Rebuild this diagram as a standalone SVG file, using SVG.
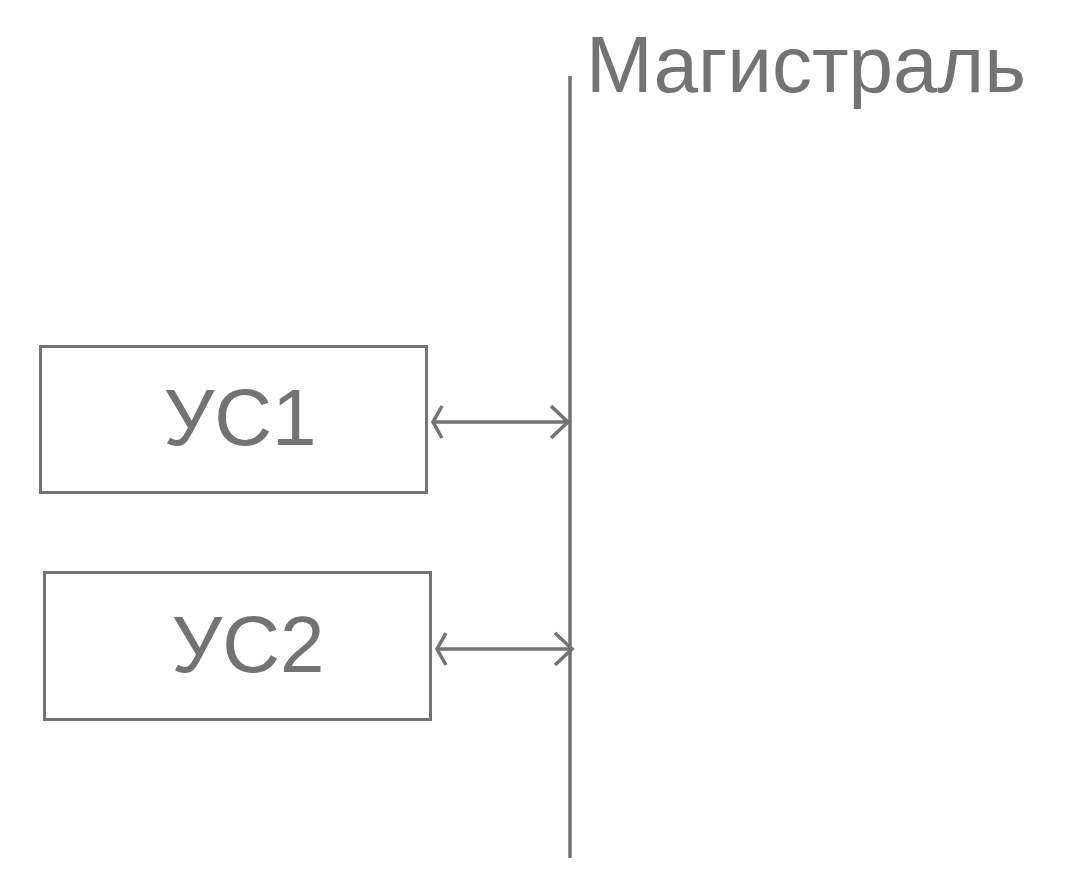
<svg xmlns="http://www.w3.org/2000/svg" width="1082" height="894" viewBox="0 0 1082 894">
<style>
.ln{stroke:#737373;stroke-width:3.5;fill:none}
.box{stroke:#737373;stroke-width:3;fill:#fff}
.t{font-family:"Liberation Sans",Arial,sans-serif;font-size:80px;fill:#737373}
</style>
<rect width="1082" height="894" fill="#fff"/>
<g id="magistral">
<line class="ln" x1="570" y1="76" x2="570" y2="858"/>
<text class="t" x="586" y="92">Магистраль</text>
</g>
<g id="us1">
<rect class="box" x="40.5" y="346.5" width="386" height="146"/>
<text class="t" x="240" y="445" text-anchor="middle">УС1</text>
</g>
<g id="us2">
<rect class="box" x="44.5" y="572.5" width="386" height="147"/>
<text class="t" x="248" y="672" text-anchor="middle">УС2</text>
</g>
<g id="connectors">
<line class="ln" x1="433" y1="422" x2="568" y2="422"/>
<path class="ln" d="M442,406 L433,422 L442,438 M551,406 L568,422 L551,438"/>
<line class="ln" x1="437" y1="649" x2="572" y2="649"/>
<path class="ln" d="M446,633 L437,649 L446,665 M555,633 L572,649 L555,665"/>
</g>
</svg>
